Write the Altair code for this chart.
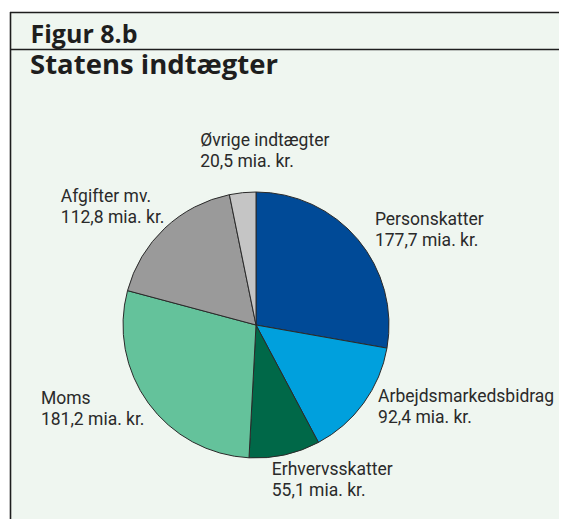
import altair as alt
import pandas as pd

categories = ["Personskatter", "Arbejdsmarkedsbidrag", "Erhvervsskatter", "Moms", "Afgifter mv.", "Øvrige indtægter"]
values = [177.7, 92.4, 55.1, 181.2, 112.8, 20.5]
colors = ["#004a97", "#00a0dd", "#006848", "#64c29b", "#9a9a9a", "#c5c5c5"]

labels = [f"{c}\n{str(v).replace('.', ',')} mia. kr." for c, v in zip(categories, values)]
df = pd.DataFrame({"cat": categories, "value": values, "idx": list(range(len(categories))), "label": labels})

W, H = 551, 511
CX, CY, R = 248, 317, 133
BG = "#eff6f0"
INK = "#2a2a2a"

base = alt.Chart(df)
one = pd.DataFrame({"a": [0]})

frame_bg = alt.Chart(one).mark_rect(color=BG).encode(
    x=alt.value(2), x2=alt.value(W), y=alt.value(4), y2=alt.value(H)
)
line_left = alt.Chart(one).mark_rule(color="#1e1e1e", strokeWidth=1.6).encode(
    x=alt.value(2.5), y=alt.value(4), y2=alt.value(H)
)
line_top = alt.Chart(one).mark_rule(color="#1e1e1e", strokeWidth=1.6).encode(
    x=alt.value(2), x2=alt.value(W), y=alt.value(4.5)
)
line_mid = alt.Chart(one).mark_rule(color="#1e1e1e", strokeWidth=1.6).encode(
    x=alt.value(2), x2=alt.value(W), y=alt.value(41.5)
)
fig_txt = alt.Chart(pd.DataFrame({"t": ["Figur 8.b"]})).mark_text(
    font="Open Sans", fontWeight="bold", fontSize=25, align="left", baseline="alphabetic", color="#1e1e1e"
).encode(x=alt.value(22.5), y=alt.value(34.7), text="t:N")
title_txt = alt.Chart(pd.DataFrame({"t": ["Statens indtægter"]})).mark_text(
    font="Open Sans", fontWeight="bold", fontSize=27.5, align="left", baseline="alphabetic", color="#1e1e1e"
).encode(x=alt.value(22), y=alt.value(66), text="t:N")

pie = base.mark_arc(outerRadius=R, stroke="#2a2a2a", strokeWidth=1).encode(
    theta=alt.Theta("value:Q", stack=True),
    order=alt.Order("idx:Q"),
    color=alt.Color("cat:N", scale=alt.Scale(domain=categories, range=colors), legend=None),
    x=alt.value(CX), y=alt.value(CY),
)

offsets = {
    "Personskatter": (17, -14.5),
    "Arbejdsmarkedsbidrag": (14.5, -1.5),
    "Erhvervsskatter": (-13, 20),
    "Moms": (-107.5, 1),
    "Afgifter mv.": (-104, -26.5),
    "Øvrige indtægter": (-42.5, -46.5),
}

text_layers = []
for c in categories:
    dx, dy = offsets[c]
    t = base.mark_text(
        radius=R, dx=dx, dy=dy, align="left", baseline="alphabetic", lineBreak="\n",
        lineHeight=21, font="Roboto", fontSize=17.5, color=INK,
    ).encode(
        theta=alt.Theta("value:Q", stack=True),
        order=alt.Order("idx:Q"),
        x=alt.value(CX), y=alt.value(CY),
        text=alt.condition(f"datum.cat == '{c}'", alt.Text("label:N"), alt.value("")),
    )
    text_layers.append(t)

chart = alt.layer(frame_bg, line_left, line_top, line_mid, fig_txt, title_txt, pie, *text_layers).properties(
    width=W, height=H, padding=0, autosize=alt.AutoSizeParams(type="none"), background="white"
).configure_view(stroke=None)

chart.save("out.html", embed_options={"renderer": "svg", "actions": False})
